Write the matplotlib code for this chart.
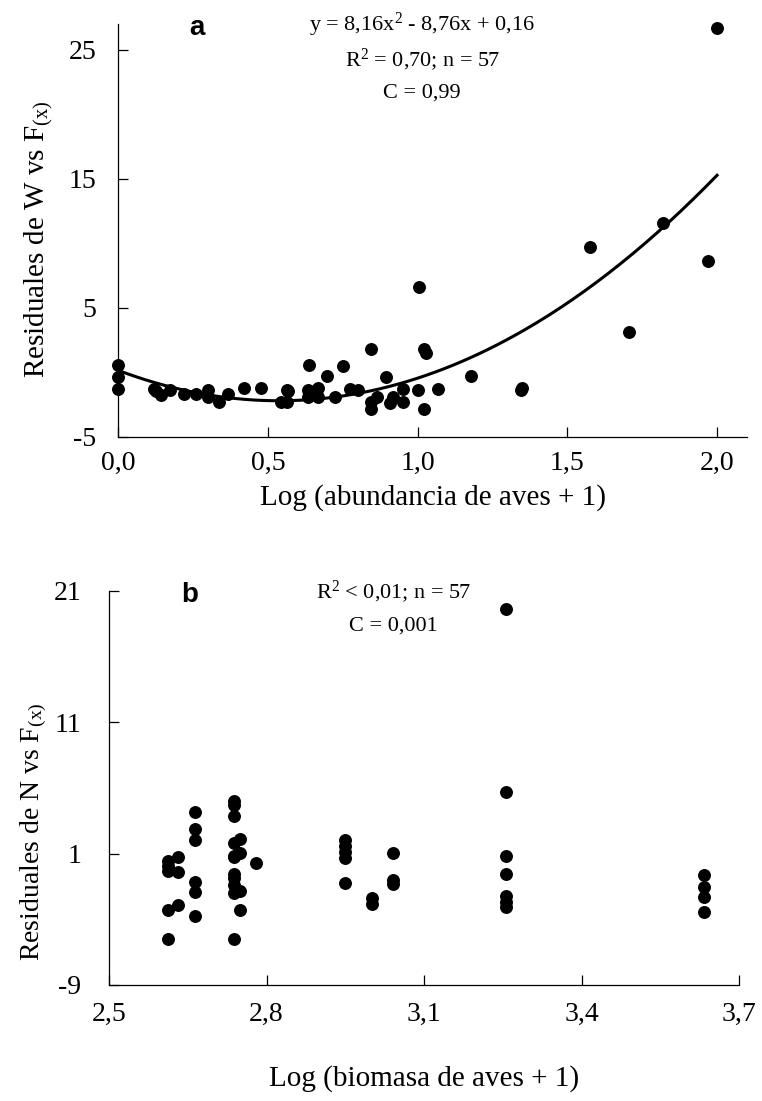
import matplotlib
matplotlib.use("Agg")
import matplotlib.pyplot as plt
import numpy as np

plt.rcParams['font.family'] = ['Liberation Serif', 'DejaVu Serif']
plt.rcParams['mathtext.fontset'] = 'custom'
plt.rcParams['mathtext.rm'] = 'Liberation Serif'
plt.rcParams['mathtext.it'] = 'Liberation Serif:italic'

# ---------------- Panel a data ----------------
a_x = [0.0, 0.0, 0.0, 0.118, 0.125, 0.143, 0.174, 0.221, 0.259, 0.30, 0.30, 0.337,
       0.365, 0.421, 0.477, 0.545, 0.565, 0.562, 0.568, 0.637, 0.635, 0.635, 0.650,
       0.668, 0.668, 0.696, 0.724, 0.749, 0.775, 0.801, 0.845, 0.845, 0.845, 0.865,
       0.895, 0.906, 0.918, 0.952, 0.952, 1.0, 1.006, 1.022, 1.028, 1.022, 1.067,
       1.177, 1.344, 1.347, 1.577, 1.705, 1.818, 1.971, 2.0]
a_y = [0.58, -0.37, -1.28, -1.30, -1.45, -1.74, -1.36, -1.69, -1.69, -1.36, -1.88, -2.31,
       -1.69, -1.18, -1.18, -2.31, -2.31, -1.36, -1.45, 0.58, -1.36, -1.88, -1.60,
       -1.23, -1.88, -0.25, -1.88, 0.53, -1.30, -1.36, 1.80, -2.26, -2.85, -1.88,
       -0.37, -2.34, -1.88, -1.31, -2.31, -1.36, 6.65, 1.80, 1.53, -2.85, -1.28,
       -0.25, -1.35, -1.20, 9.75, 3.15, 11.6, 8.6, 26.7]
fit_coef = [8.16, -8.76, 0.16]   # y = 8,16x^2 - 8,76x + 0,16
a_xticks = [0.0, 0.5, 1.0, 1.5, 2.0]
a_xticklabels = ["0,0", "0,5", "1,0", "1,5", "2,0"]
a_yticks = [-5, 5, 15, 25]
a_yticklabels = ["-5", "5", "15", "25"]

# ---------------- Panel b data ----------------
b_x = ([2.613] * 5 + [2.632] * 3 + [2.664] * 6 + [2.738] * 11 + [2.75] * 4 + [2.78] +
       [2.95] * 5 + [3.0] * 2 + [3.04] * 3 + [3.257] * 7 + [3.633] * 4)
b_y = ([0.47, 0.05, -0.35, -3.3, -5.5] +
       [0.71, -0.40, -2.93] +
       [4.16, 2.88, 2.07, -1.18, -1.92, -3.72] +
       [5.02, 4.73, 3.87, 1.82, 0.84, 0.71, -0.52, -0.89, -1.38, -2.0, -5.5] +
       [2.12, 1.08, -1.87, -3.3] +
       [0.29] +
       [2.02, 1.57, 1.13, 0.69, -1.26] +
       [-2.41, -2.81] +
       [1.03, -1.01, -1.33] +
       [19.6, 5.66, 0.79, -0.56, -2.24, -2.66, -3.05] +
       [-0.64, -1.55, -2.32, -3.47])
b_xticks = [2.5, 2.8, 3.1, 3.4, 3.7]
b_xticklabels = ["2,5", "2,8", "3,1", "3,4", "3,7"]
b_yticks = [-9, 1, 11, 21]
b_yticklabels = ["-9", "1", "11", "21"]

fig = plt.figure(figsize=(7.62, 11.01), dpi=100)

def style(ax, ypad, xpad):
    for s in ['top', 'right']:
        ax.spines[s].set_visible(False)
    for s in ['left', 'bottom']:
        ax.spines[s].set_linewidth(0.9)
    ax.tick_params(axis='both', direction='in', length=7, width=0.9, labelsize=20)
    ax.tick_params(axis='y', pad=ypad)
    ax.tick_params(axis='x', pad=xpad)

# Panel a
ax1 = fig.add_axes([118.3 / 762, 1 - 437 / 1101, (747 - 118.3) / 762, (437 - 24) / 1101])
ax1.plot(a_x, a_y, 'o', color='black', markersize=8.3, clip_on=False, zorder=3)
xf = np.linspace(0, 2.0, 200)
ax1.plot(xf, np.polyval(fit_coef, xf), color='black', linewidth=2.2)
ax1.set_xlim(0, 2.1)
ax1.set_ylim(-5, 27.0)
ax1.set_xticks(a_xticks)
ax1.set_xticklabels(a_xticklabels)
ax1.set_yticks(a_yticks)
ax1.set_yticklabels(a_yticklabels)
style(ax1, 16, 10)
ax1.set_xlabel("Log (abundancia de aves + 1)", fontsize=21, labelpad=6)
ax1.set_ylabel(r"Residuales de W vs F$_{\mathrm{(x)}}$", fontsize=21)
ax1.yaxis.set_label_coords(-0.1, 0.48)

fig.text(197 / 762, 1 - 28 / 1101, "a", fontsize=20, fontweight='bold',
         family='Liberation Sans', ha='center', va='center')
fig.text(422 / 762, 1 - 25 / 1101, r"y = 8,16x$^{2}$ - 8,76x + 0,16", fontsize=16,
         ha='center', va='center')
fig.text(422 / 762, 1 - 60 / 1101, r"R$^{2}$ = 0,70; n = 57", fontsize=16,
         ha='center', va='center')
fig.text(422 / 762, 1 - 93 / 1101, "C = 0,99", fontsize=16, ha='center', va='center')

# Panel b
ax2 = fig.add_axes([109 / 762, 1 - 985 / 1101, 630 / 762, (985 - 591) / 1101])
ax2.plot(b_x, b_y, 'o', color='black', markersize=8.3, clip_on=False, zorder=3)
ax2.set_xlim(2.5, 3.7)
ax2.set_ylim(-9, 21)
ax2.set_xticks(b_xticks)
ax2.set_xticklabels(b_xticklabels)
ax2.set_yticks(b_yticks)
ax2.set_yticklabels(b_yticklabels)
style(ax2, 20, 12)
ax2.set_xlabel("Log (biomasa de aves + 1)", fontsize=21, labelpad=28)
ax2.set_ylabel(r"Residuales de N vs F$_{\mathrm{(x)}}$", fontsize=20)
ax2.yaxis.set_label_coords(-0.095, 0.39)

fig.text(190 / 762, 1 - 595 / 1101, "b", fontsize=20, fontweight='bold',
         family='Liberation Sans', ha='center', va='center')
fig.text(393 / 762, 1 - 592 / 1101, r"R$^{2}$ < 0,01; n = 57", fontsize=16,
         ha='center', va='center')
fig.text(393 / 762, 1 - 626 / 1101, "C = 0,001", fontsize=16, ha='center', va='center')

fig.savefig("out.png", dpi=100)
